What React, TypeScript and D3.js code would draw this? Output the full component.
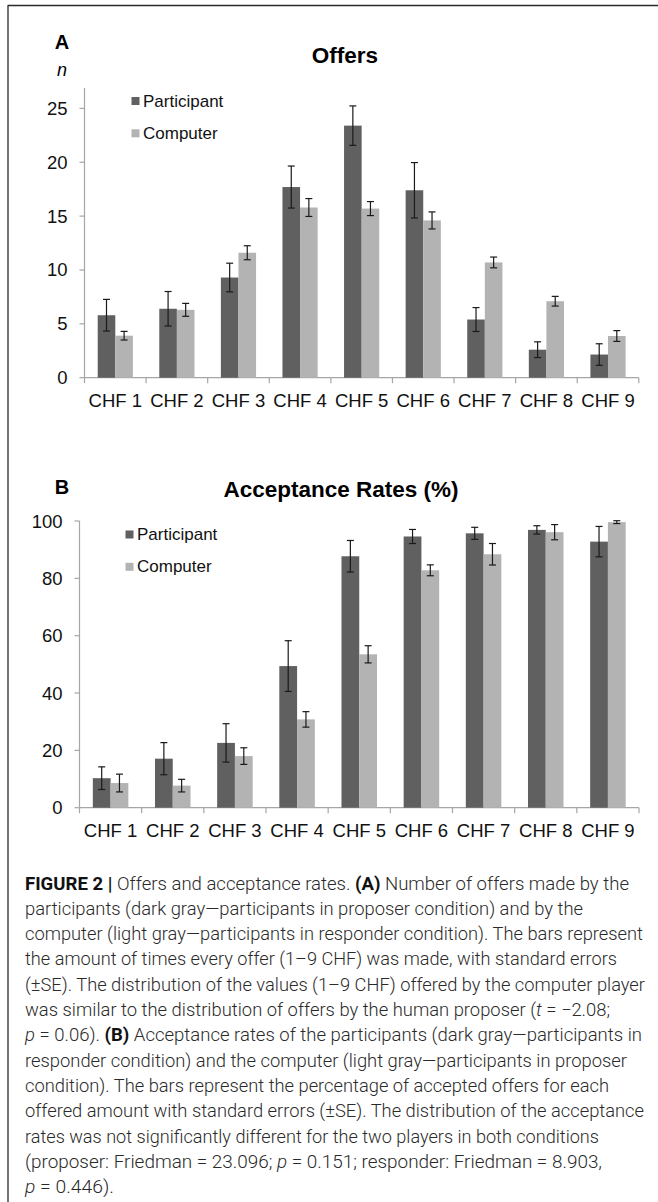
import React, { useEffect, useRef } from "react";
import * as d3 from "d3";

// categories and values
const categories = ["CHF 1", "CHF 2", "CHF 3", "CHF 4", "CHF 5", "CHF 6", "CHF 7", "CHF 8", "CHF 9"];
const seriesNames = ["Participant", "Computer"];

const offersParticipant = [5.8, 6.4, 9.3, 17.7, 23.4, 17.4, 5.4, 2.6, 2.15];
const offersParticipantSE = [1.47, 1.6, 1.33, 1.95, 1.83, 2.57, 1.11, 0.73, 1.0];
const offersComputer = [3.9, 6.3, 11.6, 15.8, 15.7, 14.6, 10.7, 7.1, 3.87];
const offersComputerSE = [0.4, 0.6, 0.65, 0.83, 0.65, 0.79, 0.5, 0.45, 0.5];
const offersTicks = [0, 5, 10, 15, 20, 25];

const acceptParticipant = [10.3, 17.1, 22.6, 49.4, 87.7, 94.6, 95.7, 96.9, 92.8];
const acceptParticipantSE = [3.95, 5.6, 6.7, 8.85, 5.5, 2.45, 2.1, 1.45, 5.3];
const acceptComputer = [8.6, 7.7, 18.0, 30.8, 53.5, 82.8, 88.4, 96.1, 99.6];
const acceptComputerSE = [3.1, 2.2, 2.9, 2.7, 3.0, 1.9, 3.75, 2.65, 0.5];
const acceptTicks = [0, 20, 40, 60, 80, 100];

// caption, one entry per printed line; "b" bold, "i" italic
const captionLines = [
  [["FIGURE 2 | ", "b"], ["Offers and acceptance rates. ", ""], ["(A)", "b"], [" Number of offers made by the", ""]],
  [["participants (dark gray\u2014participants in proposer condition) and by the", ""]],
  [["computer (light gray\u2014participants in responder condition). The bars represent", ""]],
  [["the amount of times every offer (1\u20139 CHF) was made, with standard errors", ""]],
  [["(\u00B1SE). The distribution of the values (1\u20139 CHF) offered by the computer player", ""]],
  [["was similar to the distribution of offers by the human proposer (", ""], ["t", "i"], [" = \u22122.08;", ""]],
  [["p", "i"], [" = 0.06). ", ""], ["(B)", "b"], [" Acceptance rates of the participants (dark gray\u2014participants in", ""]],
  [["responder condition) and the computer (light gray\u2014participants in proposer", ""]],
  [["condition). The bars represent the percentage of accepted offers for each", ""]],
  [["offered amount with standard errors (\u00B1SE). The distribution of the acceptance", ""]],
  [["rates was not significantly different for the two players in both conditions", ""]],
  [["(proposer: Friedman = 23.096; ", ""], ["p", "i"], [" = 0.151; responder: Friedman = 8.903,", ""]],
  [["p", "i"], [" = 0.446).", ""]],
];
const captionLineEnds = [629, 583, 643, 617, 645, 610, 642, 627, 609, 644, 599, 602, 114];

const FONT = "'Liberation Sans', Arial, Helvetica, sans-serif";
const DARK = "#606060";
const LIGHT = "#b3b3b3";
const AXIS = "#a6a6a6";

function drawPanel(svg, o) {
  const g = svg.append("g");

  const x = d3.scaleBand().domain(categories).range([o.left, o.right]);
  const bw = x.bandwidth();
  const x1 = d3.scaleBand().domain(seriesNames).range([bw / 2 - bw / 3.5, bw / 2 + bw / 3.5]);
  const y = d3.scaleLinear().domain([0, o.ticks[o.ticks.length - 1]]).range([o.y0, o.yTop]);

  // panel letter + title
  g.append("text").attr("x", o.letterX).attr("y", o.letterY).attr("text-anchor", "middle")
    .attr("font-family", FONT).attr("font-weight", "bold").attr("font-size", 20).text(o.letter);
  g.append("text").attr("x", o.titleX).attr("y", o.titleY).attr("text-anchor", "middle")
    .attr("font-family", FONT).attr("font-weight", "bold").attr("font-size", 22.5).text(o.title);
  if (o.unit) {
    g.append("text").attr("x", o.letterX).attr("y", o.unitY).attr("text-anchor", "middle")
      .attr("font-family", FONT).attr("font-style", "italic").attr("font-size", 18).text(o.unit);
  }

  // y axis
  g.append("line").attr("x1", o.left).attr("x2", o.left)
    .attr("y1", y(0)).attr("y2", y(o.axisTop)).attr("stroke", AXIS).attr("stroke-width", 1.2);
  g.selectAll(".ytick").data(o.ticks).enter().append("line")
    .attr("x1", o.left - 5).attr("x2", o.left)
    .attr("y1", d => y(d)).attr("y2", d => y(d))
    .attr("stroke", AXIS).attr("stroke-width", 1.2);
  g.selectAll(".ylab").data(o.ticks).enter().append("text")
    .attr("x", o.left - 17).attr("y", d => y(d) + 6.5).attr("text-anchor", "end")
    .attr("font-family", FONT).attr("font-size", 18.5).attr("fill", "#111").text(d => d);

  // x axis
  g.append("line").attr("x1", o.left).attr("x2", o.right)
    .attr("y1", y(0)).attr("y2", y(0)).attr("stroke", AXIS).attr("stroke-width", 1.2);
  const bounds = categories.map(c => x(c)).concat([o.right]);
  g.selectAll(".xtick").data(bounds).enter().append("line")
    .attr("x1", d => d).attr("x2", d => d)
    .attr("y1", y(0)).attr("y2", y(0) + 5.5)
    .attr("stroke", AXIS).attr("stroke-width", 1.2);
  g.selectAll(".xlab").data(categories).enter().append("text")
    .attr("x", d => x(d) + bw / 2).attr("y", o.labelY).attr("text-anchor", "middle")
    .attr("font-family", FONT).attr("font-size", 18.5).attr("fill", "#111").text(d => d);

  // bars + error bars
  const rows = categories.flatMap((c, i) => [
    { c, s: "Participant", v: o.p[i], se: o.pse[i], fill: DARK },
    { c, s: "Computer", v: o.c[i], se: o.cse[i], fill: LIGHT },
  ]);
  g.selectAll(".bar").data(rows).enter().append("rect")
    .attr("x", d => x(d.c) + x1(d.s))
    .attr("y", d => y(d.v))
    .attr("width", x1.bandwidth())
    .attr("height", d => y(0) - y(d.v))
    .attr("fill", d => d.fill);

  const err = g.selectAll(".err").data(rows).enter().append("g")
    .attr("stroke", "#1a1a1a").attr("stroke-width", 1.2);
  const cx = d => x(d.c) + x1(d.s) + x1.bandwidth() / 2;
  err.append("line").attr("x1", cx).attr("x2", cx)
    .attr("y1", d => y(d.v + d.se)).attr("y2", d => y(Math.max(0, d.v - d.se)));
  err.append("line").attr("x1", d => cx(d) - 3.5).attr("x2", d => cx(d) + 3.5)
    .attr("y1", d => y(d.v + d.se)).attr("y2", d => y(d.v + d.se));
  err.append("line").attr("x1", d => cx(d) - 3.5).attr("x2", d => cx(d) + 3.5)
    .attr("y1", d => y(Math.max(0, d.v - d.se))).attr("y2", d => y(Math.max(0, d.v - d.se)));

  // legend
  const leg = g.selectAll(".leg").data(seriesNames).enter().append("g")
    .attr("transform", (d, i) => `translate(${o.legendX},${o.legendY + i * 32.3})`);
  leg.append("rect").attr("x", 0).attr("y", -9.5).attr("width", 8).attr("height", 8)
    .attr("fill", (d, i) => (i === 0 ? DARK : LIGHT));
  leg.append("text").attr("x", 11.5).attr("y", 0)
    .attr("font-family", FONT).attr("font-size", 17).attr("fill", "#111").text(d => d);
}

export default function App() {
  const ref = useRef(null);

  useEffect(() => {
    document.body.style.margin = "0";
    const svg = d3.select(ref.current);
    svg.selectAll("*").remove();

    svg.append("rect").attr("width", 658).attr("height", 1202).attr("fill", "#fff");

    // frame lines (top + left)
    svg.append("line").attr("x1", 8).attr("x2", 658).attr("y1", 5.5).attr("y2", 5.5)
      .attr("stroke", "#2a2a2a").attr("stroke-width", 1.3);
    svg.append("line").attr("x1", 8).attr("x2", 8).attr("y1", 5).attr("y2", 1202)
      .attr("stroke", "#2a2a2a").attr("stroke-width", 1.3);

    drawPanel(svg, {
      letter: "A", letterX: 62, letterY: 49, unit: "n", unitY: 76,
      title: "Offers", titleX: 345, titleY: 63,
      left: 84.5, right: 638.8, y0: 377.7, yTop: 108.4, axisTop: 26.9,
      ticks: offersTicks, labelY: 406.5,
      p: offersParticipant, pse: offersParticipantSE, c: offersComputer, cse: offersComputerSE,
      legendX: 131.5, legendY: 106.5,
    });

    drawPanel(svg, {
      letter: "B", letterX: 62, letterY: 494,
      title: "Acceptance Rates (%)", titleX: 341, titleY: 497,
      left: 79.5, right: 639, y0: 807.7, yTop: 521, axisTop: 100,
      ticks: acceptTicks, labelY: 836.5,
      p: acceptParticipant, pse: acceptParticipantSE, c: acceptComputer, cse: acceptComputerSE,
      legendX: 125.5, legendY: 540,
    });

    // caption
    const cap = svg.append("g").attr("font-family", "Roboto, 'Liberation Sans', Arial, sans-serif")
      .attr("font-size", 17.6).attr("fill", "#2a2a2a");
    captionLines.forEach((segs, i) => {
      const t = cap.append("text").attr("x", 25).attr("y", 889.5 + i * 25.3)
        .attr("textLength", captionLineEnds[i] - 25).attr("lengthAdjust", "spacingAndGlyphs")
        .attr("font-weight", 300);
      segs.forEach(([s, st]) => {
        const ts = t.append("tspan").text(s);
        if (st === "b") ts.attr("font-weight", "bold").attr("fill", "#111");
        if (st === "i") ts.attr("font-style", "italic");
      });
    });
  }, []);

  return <svg ref={ref} width={658} height={1202} style={{ display: "block" }}></svg>;
}
